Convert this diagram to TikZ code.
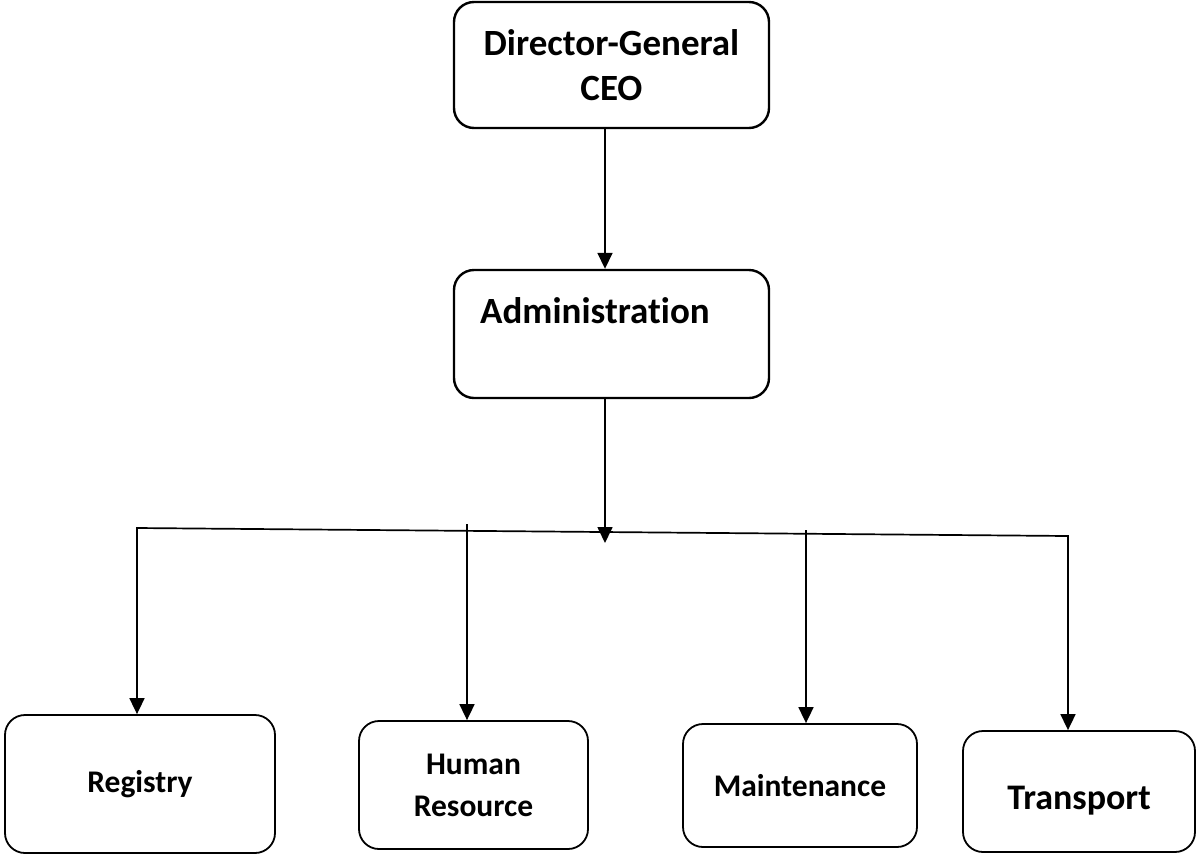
\documentclass[tikz,border=0pt]{standalone}
\usepackage{fontspec}
\setmainfont{Carlito}[Ligatures=CommonOff]
\usetikzlibrary{arrows.meta}

\begin{document}
\begin{tikzpicture}[x=1pt,y=-1pt,
  box/.style={draw, rounded corners=20pt, inner sep=0pt, align=center,
    font=\bfseries\fontsize{31.5}{42}\selectfont},
  topbox/.style={box, line width=2.4pt, font=\bfseries\fontsize{37}{45}\selectfont},
  unitbox/.style={box, line width=1.8pt},
  link/.style={line width=1.7pt},
  tip/.tip={Triangle[length=16pt,width=15pt]},
  arrow/.style={link, -tip}]

\useasboundingbox (0,0) rectangle (1197,855);

% top of the chart
\node[topbox, minimum width=315pt, minimum height=126pt] (ceo) at (611.5,65) {Director-General\\CEO};
\node[topbox, minimum width=315pt, minimum height=128pt] (adm) at (611.5,334) {};
\node[anchor=base west, inner sep=0pt, font=\bfseries\fontsize{37}{45}\selectfont] (admtext) at (480,323) {Administration};

% units
\node[unitbox, minimum width=270pt, minimum height=138pt] (reg) at (140,784) {Registry};
\node[unitbox, minimum width=229pt, minimum height=128pt] (hr) at (473.5,785) {Human\\Resource};
\node[unitbox, minimum width=234pt, minimum height=123pt] (mt) at (800,785.5) {Maintenance};
\node[unitbox, minimum width=232pt, minimum height=121pt,
  font=\bfseries\fontsize{36}{42}\selectfont] (tr) at (1079,791.5) {\raisebox{-9pt}[\height][\depth]{Transport}};

% bus points
\coordinate (hub) at (605,543);
\coordinate (busL) at (137,528);
\coordinate (busR) at (1068,536);
\coordinate (hrTop) at (467,524);
\coordinate (mtTop) at (806,530);

% connectors
\draw[arrow] ([xshift=-6.5pt]ceo.south) -- ([xshift=-6.5pt]adm.north);
\draw[arrow] ([xshift=-6.5pt]adm.south) -- (hub);
\draw[link, tip-tip] (busL |- reg.north) -- (busL) -- (busR) -- (busR |- tr.north);
\draw[arrow] (hrTop) -- (hrTop |- hr.north);
\draw[arrow] (mtTop) -- (mtTop |- mt.north);

\end{tikzpicture}
\end{document}
